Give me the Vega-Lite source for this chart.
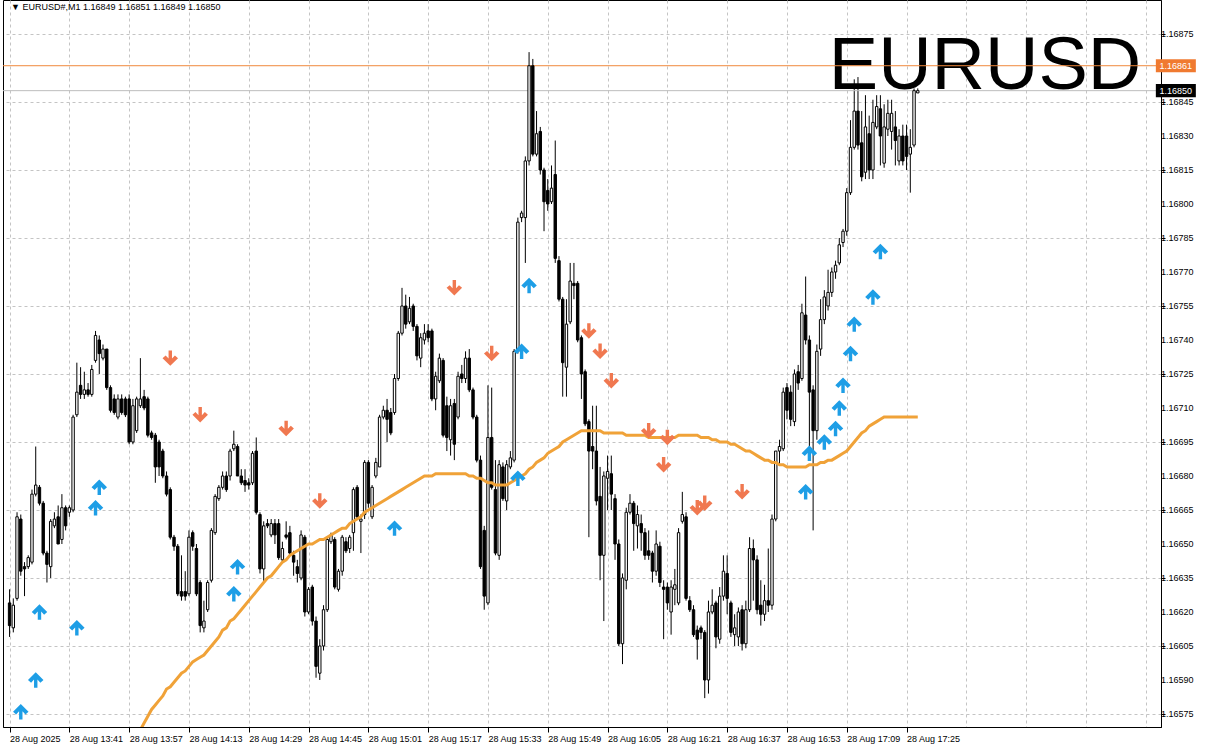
{
"$schema":"https://vega.github.io/schema/vega-lite/v6.json",
"width":1158,"height":727,
"autosize":{"type":"none"},
"padding":{"left":3,"top":0,"right":44,"bottom":23},
"background":"white",
"config":{"view":{"stroke":"#000000","strokeWidth":1},"font":"Liberation Sans","axis":{"labelOverlap":false,"labelBound":false,"labelFlush":false}},
"datasets":{
"bars":[
{"m":805,"o":1.16624,"h":1.1663,"l":1.16609,"c":1.16614},
{"m":806,"o":1.16613,"h":1.16626,"l":1.16611,"c":1.16623},
{"m":807,"o":1.16626,"h":1.16664,"l":1.16625,"c":1.16662},
{"m":808,"o":1.16661,"h":1.16663,"l":1.16636,"c":1.16638},
{"m":809,"o":1.1664,"h":1.16642,"l":1.16627,"c":1.16639},
{"m":810,"o":1.1664,"h":1.16645,"l":1.16639,"c":1.16644},
{"m":811,"o":1.16642,"h":1.16674,"l":1.16641,"c":1.16672},
{"m":812,"o":1.16672,"h":1.16693,"l":1.16671,"c":1.16676},
{"m":813,"o":1.16675,"h":1.16676,"l":1.16667,"c":1.16668},
{"m":814,"o":1.16668,"h":1.16669,"l":1.16645,"c":1.16646},
{"m":815,"o":1.16646,"h":1.16647,"l":1.16633,"c":1.16641},
{"m":816,"o":1.1664,"h":1.16661,"l":1.16635,"c":1.1666},
{"m":817,"o":1.16658,"h":1.16664,"l":1.16657,"c":1.16661},
{"m":818,"o":1.16662,"h":1.16667,"l":1.1665,"c":1.1665},
{"m":819,"o":1.16652,"h":1.16672,"l":1.1665,"c":1.16666},
{"m":820,"o":1.16666,"h":1.16667,"l":1.16656,"c":1.16658},
{"m":821,"o":1.16664,"h":1.16667,"l":1.16662,"c":1.16666},
{"m":822,"o":1.16665,"h":1.16707,"l":1.16664,"c":1.16706},
{"m":823,"o":1.16707,"h":1.1673,"l":1.16706,"c":1.16717},
{"m":824,"o":1.1672,"h":1.16728,"l":1.16714,"c":1.16716},
{"m":825,"o":1.16716,"h":1.16726,"l":1.16714,"c":1.16718},
{"m":826,"o":1.16718,"h":1.16721,"l":1.16715,"c":1.16716},
{"m":827,"o":1.16716,"h":1.16729,"l":1.16715,"c":1.16727},
{"m":828,"o":1.16731,"h":1.16744,"l":1.1673,"c":1.16742},
{"m":829,"o":1.1674,"h":1.16742,"l":1.16725,"c":1.16734},
{"m":830,"o":1.16732,"h":1.16738,"l":1.16731,"c":1.16736},
{"m":831,"o":1.16736,"h":1.16736,"l":1.16718,"c":1.16719},
{"m":832,"o":1.16719,"h":1.1672,"l":1.16708,"c":1.16709},
{"m":833,"o":1.16714,"h":1.16716,"l":1.16707,"c":1.16708},
{"m":834,"o":1.16706,"h":1.16716,"l":1.16705,"c":1.16714},
{"m":835,"o":1.16714,"h":1.16716,"l":1.16707,"c":1.16708},
{"m":836,"o":1.16714,"h":1.16715,"l":1.16706,"c":1.16707},
{"m":837,"o":1.16714,"h":1.16716,"l":1.16694,"c":1.16695},
{"m":838,"o":1.16695,"h":1.16714,"l":1.16694,"c":1.16711},
{"m":839,"o":1.167,"h":1.16715,"l":1.16699,"c":1.16714,"ma":1.16564},
{"m":840,"o":1.16711,"h":1.16732,"l":1.1671,"c":1.16714,"ma":1.16568},
{"m":841,"o":1.16715,"h":1.16718,"l":1.16709,"c":1.1671,"ma":1.16571},
{"m":842,"o":1.16714,"h":1.16715,"l":1.16697,"c":1.16698,"ma":1.16574},
{"m":843,"o":1.16699,"h":1.167,"l":1.16696,"c":1.16697,"ma":1.16577},
{"m":844,"o":1.16698,"h":1.16699,"l":1.16677,"c":1.16684,"ma":1.16579},
{"m":845,"o":1.16695,"h":1.16696,"l":1.1668,"c":1.16684,"ma":1.16581},
{"m":846,"o":1.16691,"h":1.16692,"l":1.16679,"c":1.1668,"ma":1.16583},
{"m":847,"o":1.1668,"h":1.16682,"l":1.16671,"c":1.16672,"ma":1.16586},
{"m":848,"o":1.16674,"h":1.16675,"l":1.16652,"c":1.16653,"ma":1.16587},
{"m":849,"o":1.16653,"h":1.16654,"l":1.16647,"c":1.16649,"ma":1.16589},
{"m":850,"o":1.16649,"h":1.1665,"l":1.16627,"c":1.16628,"ma":1.16591},
{"m":851,"o":1.16629,"h":1.16645,"l":1.16625,"c":1.16627,"ma":1.16593},
{"m":852,"o":1.16629,"h":1.16638,"l":1.16625,"c":1.16627,"ma":1.16594},
{"m":853,"o":1.16628,"h":1.16656,"l":1.16627,"c":1.16653,"ma":1.16596},
{"m":854,"o":1.16655,"h":1.16656,"l":1.16647,"c":1.16649,"ma":1.16598},
{"m":855,"o":1.16648,"h":1.1665,"l":1.16627,"c":1.16628,"ma":1.16599},
{"m":856,"o":1.16633,"h":1.16634,"l":1.16611,"c":1.16614,"ma":1.166},
{"m":857,"o":1.16613,"h":1.16625,"l":1.16611,"c":1.16616,"ma":1.16601},
{"m":858,"o":1.16621,"h":1.16634,"l":1.1662,"c":1.16633,"ma":1.16603},
{"m":859,"o":1.16634,"h":1.16657,"l":1.16633,"c":1.16656,"ma":1.16605},
{"m":860,"o":1.16655,"h":1.16672,"l":1.16654,"c":1.16671,"ma":1.16607},
{"m":861,"o":1.1667,"h":1.16676,"l":1.16669,"c":1.16675,"ma":1.16609},
{"m":862,"o":1.16675,"h":1.16682,"l":1.16674,"c":1.1668,"ma":1.16612},
{"m":863,"o":1.1668,"h":1.16682,"l":1.16673,"c":1.16674,"ma":1.16613},
{"m":864,"o":1.1668,"h":1.16692,"l":1.16678,"c":1.16691,"ma":1.16616},
{"m":865,"o":1.16692,"h":1.167,"l":1.16691,"c":1.16694,"ma":1.16617},
{"m":866,"o":1.16693,"h":1.16694,"l":1.1668,"c":1.1668,"ma":1.16619},
{"m":867,"o":1.1668,"h":1.16683,"l":1.16676,"c":1.16677,"ma":1.16621},
{"m":868,"o":1.16678,"h":1.16683,"l":1.16673,"c":1.16676,"ma":1.16623},
{"m":869,"o":1.16677,"h":1.16679,"l":1.16674,"c":1.16676,"ma":1.16625},
{"m":870,"o":1.16677,"h":1.16691,"l":1.16676,"c":1.1669,"ma":1.16627},
{"m":871,"o":1.16691,"h":1.16697,"l":1.16663,"c":1.16664,"ma":1.16629},
{"m":872,"o":1.16663,"h":1.16664,"l":1.16637,"c":1.16639,"ma":1.16631},
{"m":873,"o":1.16639,"h":1.1666,"l":1.16633,"c":1.16658,"ma":1.16633},
{"m":874,"o":1.16659,"h":1.16661,"l":1.16657,"c":1.16658,"ma":1.16635},
{"m":875,"o":1.16654,"h":1.16661,"l":1.16653,"c":1.16659,"ma":1.16636},
{"m":876,"o":1.16659,"h":1.16661,"l":1.1665,"c":1.16654,"ma":1.16638},
{"m":877,"o":1.16659,"h":1.16661,"l":1.16643,"c":1.16644,"ma":1.1664},
{"m":878,"o":1.16643,"h":1.16651,"l":1.16642,"c":1.16648,"ma":1.16642},
{"m":879,"o":1.16654,"h":1.1666,"l":1.16652,"c":1.16653,"ma":1.16643},
{"m":880,"o":1.16655,"h":1.16658,"l":1.16645,"c":1.16646,"ma":1.16645},
{"m":881,"o":1.16645,"h":1.16647,"l":1.16636,"c":1.16642,"ma":1.16646},
{"m":882,"o":1.1664,"h":1.16643,"l":1.16633,"c":1.16637,"ma":1.16647},
{"m":883,"o":1.16635,"h":1.16656,"l":1.16634,"c":1.16654,"ma":1.16648},
{"m":884,"o":1.16653,"h":1.16654,"l":1.16618,"c":1.1662,"ma":1.16649},
{"m":885,"o":1.1662,"h":1.16631,"l":1.16619,"c":1.1663,"ma":1.1665},
{"m":886,"o":1.16631,"h":1.16632,"l":1.16614,"c":1.16616,"ma":1.1665},
{"m":887,"o":1.16616,"h":1.16618,"l":1.16591,"c":1.16596,"ma":1.16651},
{"m":888,"o":1.16593,"h":1.16608,"l":1.1659,"c":1.16605,"ma":1.16652},
{"m":889,"o":1.16605,"h":1.16623,"l":1.16603,"c":1.16621,"ma":1.16652},
{"m":890,"o":1.16621,"h":1.16653,"l":1.1662,"c":1.16652,"ma":1.16653},
{"m":891,"o":1.16651,"h":1.16655,"l":1.1665,"c":1.16654,"ma":1.16654},
{"m":892,"o":1.16652,"h":1.16653,"l":1.1663,"c":1.16631,"ma":1.16655},
{"m":893,"o":1.1663,"h":1.16639,"l":1.16629,"c":1.16638,"ma":1.16656},
{"m":894,"o":1.16638,"h":1.16654,"l":1.16636,"c":1.16653,"ma":1.16657},
{"m":895,"o":1.16651,"h":1.16653,"l":1.16646,"c":1.16647,"ma":1.16657},
{"m":896,"o":1.16648,"h":1.16654,"l":1.16646,"c":1.16653,"ma":1.16659},
{"m":897,"o":1.16655,"h":1.16675,"l":1.16647,"c":1.16674,"ma":1.1666},
{"m":898,"o":1.16675,"h":1.16676,"l":1.16661,"c":1.16662,"ma":1.16661},
{"m":899,"o":1.1666,"h":1.16663,"l":1.16646,"c":1.16661,"ma":1.16662},
{"m":900,"o":1.16663,"h":1.16687,"l":1.16661,"c":1.16686,"ma":1.16664},
{"m":901,"o":1.16686,"h":1.16687,"l":1.16666,"c":1.16668,"ma":1.16665},
{"m":902,"o":1.16662,"h":1.16676,"l":1.16661,"c":1.16675,"ma":1.16666},
{"m":903,"o":1.1668,"h":1.16688,"l":1.16679,"c":1.16686,"ma":1.16667},
{"m":904,"o":1.16684,"h":1.16707,"l":1.16684,"c":1.16706,"ma":1.16668},
{"m":905,"o":1.16706,"h":1.16711,"l":1.16705,"c":1.16709,"ma":1.16669},
{"m":906,"o":1.16709,"h":1.16714,"l":1.16695,"c":1.16705,"ma":1.1667},
{"m":907,"o":1.16708,"h":1.1671,"l":1.16698,"c":1.16699,"ma":1.16671},
{"m":908,"o":1.16708,"h":1.16725,"l":1.16707,"c":1.16723,"ma":1.16672},
{"m":909,"o":1.16723,"h":1.16744,"l":1.16722,"c":1.16743,"ma":1.16673},
{"m":910,"o":1.16743,"h":1.16763,"l":1.16742,"c":1.16755,"ma":1.16674},
{"m":911,"o":1.16755,"h":1.1676,"l":1.16745,"c":1.16747,"ma":1.16675},
{"m":912,"o":1.16748,"h":1.16759,"l":1.16747,"c":1.16754,"ma":1.16676},
{"m":913,"o":1.16755,"h":1.16756,"l":1.16744,"c":1.16746,"ma":1.16677},
{"m":914,"o":1.16746,"h":1.16747,"l":1.16731,"c":1.16733,"ma":1.16678},
{"m":915,"o":1.16732,"h":1.16743,"l":1.16728,"c":1.16741,"ma":1.16679},
{"m":916,"o":1.1674,"h":1.16747,"l":1.16738,"c":1.16743,"ma":1.1668},
{"m":917,"o":1.16744,"h":1.16747,"l":1.16739,"c":1.16741,"ma":1.1668},
{"m":918,"o":1.16744,"h":1.16745,"l":1.16713,"c":1.16714,"ma":1.1668},
{"m":919,"o":1.16714,"h":1.16726,"l":1.16709,"c":1.16724,"ma":1.16681},
{"m":920,"o":1.16722,"h":1.16734,"l":1.16721,"c":1.16732,"ma":1.16681},
{"m":921,"o":1.16731,"h":1.16732,"l":1.16697,"c":1.16698,"ma":1.16681},
{"m":922,"o":1.16711,"h":1.16715,"l":1.16691,"c":1.16697,"ma":1.16681},
{"m":923,"o":1.16696,"h":1.16714,"l":1.16689,"c":1.16711,"ma":1.16681},
{"m":924,"o":1.16712,"h":1.16714,"l":1.16687,"c":1.16694,"ma":1.16681},
{"m":925,"o":1.16706,"h":1.16726,"l":1.16705,"c":1.16724,"ma":1.16681},
{"m":926,"o":1.16725,"h":1.16729,"l":1.16721,"c":1.16723,"ma":1.16681},
{"m":927,"o":1.16723,"h":1.16735,"l":1.16721,"c":1.16732,"ma":1.16681},
{"m":928,"o":1.16732,"h":1.16736,"l":1.16717,"c":1.16718,"ma":1.1668},
{"m":929,"o":1.16718,"h":1.16719,"l":1.16705,"c":1.16706,"ma":1.1668},
{"m":930,"o":1.16706,"h":1.16707,"l":1.16686,"c":1.16687,"ma":1.16679},
{"m":931,"o":1.16687,"h":1.16689,"l":1.16639,"c":1.1664,"ma":1.16679},
{"m":932,"o":1.16656,"h":1.16658,"l":1.16621,"c":1.16627,"ma":1.16678},
{"m":933,"o":1.16624,"h":1.1672,"l":1.16623,"c":1.16697,"ma":1.16677},
{"m":934,"o":1.16697,"h":1.16719,"l":1.16674,"c":1.16675,"ma":1.16677},
{"m":935,"o":1.16674,"h":1.16687,"l":1.16645,"c":1.16646,"ma":1.16676},
{"m":936,"o":1.16645,"h":1.16687,"l":1.16643,"c":1.16685,"ma":1.16676},
{"m":937,"o":1.16684,"h":1.16686,"l":1.16669,"c":1.1667,"ma":1.16676},
{"m":938,"o":1.16669,"h":1.16687,"l":1.16665,"c":1.16685,"ma":1.16676},
{"m":939,"o":1.16684,"h":1.16691,"l":1.16683,"c":1.16688,"ma":1.16677},
{"m":940,"o":1.16687,"h":1.16736,"l":1.16686,"c":1.16735,"ma":1.16678},
{"m":941,"o":1.16735,"h":1.16794,"l":1.16734,"c":1.16792,"ma":1.16679},
{"m":942,"o":1.16794,"h":1.16797,"l":1.16792,"c":1.16796,"ma":1.1668},
{"m":943,"o":1.16794,"h":1.16821,"l":1.16774,"c":1.16819,"ma":1.16681},
{"m":944,"o":1.16819,"h":1.16867,"l":1.16817,"c":1.16861,"ma":1.16683},
{"m":945,"o":1.16861,"h":1.16864,"l":1.16821,"c":1.16822,"ma":1.16684},
{"m":946,"o":1.16822,"h":1.16841,"l":1.16821,"c":1.16831,"ma":1.16686},
{"m":947,"o":1.16832,"h":1.16834,"l":1.16813,"c":1.16815,"ma":1.16687},
{"m":948,"o":1.16815,"h":1.16816,"l":1.16788,"c":1.16801,"ma":1.16688},
{"m":949,"o":1.16806,"h":1.16811,"l":1.16797,"c":1.168,"ma":1.1669},
{"m":950,"o":1.16801,"h":1.16817,"l":1.168,"c":1.16807,"ma":1.16691},
{"m":951,"o":1.16813,"h":1.16828,"l":1.16774,"c":1.16776,"ma":1.16692},
{"m":952,"o":1.16775,"h":1.16777,"l":1.16757,"c":1.16758,"ma":1.16693},
{"m":953,"o":1.16758,"h":1.16759,"l":1.16715,"c":1.1673,"ma":1.16695},
{"m":954,"o":1.16728,"h":1.16758,"l":1.16715,"c":1.16747,"ma":1.16696},
{"m":955,"o":1.16748,"h":1.16774,"l":1.16747,"c":1.16766,"ma":1.16697},
{"m":956,"o":1.16765,"h":1.16774,"l":1.16758,"c":1.16764,"ma":1.16698},
{"m":957,"o":1.16765,"h":1.16766,"l":1.16739,"c":1.1674,"ma":1.16699},
{"m":958,"o":1.16741,"h":1.16742,"l":1.16714,"c":1.16725,"ma":1.167},
{"m":959,"o":1.16726,"h":1.16727,"l":1.16702,"c":1.16703,"ma":1.167},
{"m":960,"o":1.16704,"h":1.16705,"l":1.16653,"c":1.16691,"ma":1.167},
{"m":961,"o":1.16693,"h":1.16711,"l":1.16683,"c":1.16691,"ma":1.167},
{"m":962,"o":1.16691,"h":1.16711,"l":1.16667,"c":1.16669,"ma":1.167},
{"m":963,"o":1.16671,"h":1.16684,"l":1.16634,"c":1.16645,"ma":1.167},
{"m":964,"o":1.16645,"h":1.16682,"l":1.16616,"c":1.1668,"ma":1.16699},
{"m":965,"o":1.16679,"h":1.16689,"l":1.16665,"c":1.16682,"ma":1.16699},
{"m":966,"o":1.16681,"h":1.16689,"l":1.16665,"c":1.16672,"ma":1.16699},
{"m":967,"o":1.1667,"h":1.16672,"l":1.16643,"c":1.1665,"ma":1.16699},
{"m":968,"o":1.1665,"h":1.16652,"l":1.16605,"c":1.16606,"ma":1.16699},
{"m":969,"o":1.16606,"h":1.16637,"l":1.16597,"c":1.16635,"ma":1.16699},
{"m":970,"o":1.16634,"h":1.16666,"l":1.1663,"c":1.16664,"ma":1.16698},
{"m":971,"o":1.16664,"h":1.16672,"l":1.16663,"c":1.16668,"ma":1.16698},
{"m":972,"o":1.16668,"h":1.16669,"l":1.16647,"c":1.16659,"ma":1.16698},
{"m":973,"o":1.16658,"h":1.16667,"l":1.16648,"c":1.16663,"ma":1.16698},
{"m":974,"o":1.16659,"h":1.16663,"l":1.16647,"c":1.16655,"ma":1.16698},
{"m":975,"o":1.16655,"h":1.16657,"l":1.16643,"c":1.16645,"ma":1.16698},
{"m":976,"o":1.16647,"h":1.16656,"l":1.16643,"c":1.16645,"ma":1.16697},
{"m":977,"o":1.16646,"h":1.16647,"l":1.16633,"c":1.16638,"ma":1.16697},
{"m":978,"o":1.16638,"h":1.16656,"l":1.16636,"c":1.1665,"ma":1.16697},
{"m":979,"o":1.16649,"h":1.16651,"l":1.16631,"c":1.16633,"ma":1.16697},
{"m":980,"o":1.16631,"h":1.16634,"l":1.16608,"c":1.1663,"ma":1.16697},
{"m":981,"o":1.16631,"h":1.16633,"l":1.16621,"c":1.16624,"ma":1.16697},
{"m":982,"o":1.1662,"h":1.16634,"l":1.1661,"c":1.16631,"ma":1.16697},
{"m":983,"o":1.1663,"h":1.16639,"l":1.16623,"c":1.16632,"ma":1.16697},
{"m":984,"o":1.16624,"h":1.16657,"l":1.16623,"c":1.16655,"ma":1.16698},
{"m":985,"o":1.1666,"h":1.16673,"l":1.16659,"c":1.16663,"ma":1.16698},
{"m":986,"o":1.16662,"h":1.16664,"l":1.16625,"c":1.16626,"ma":1.16698},
{"m":987,"o":1.16625,"h":1.16627,"l":1.1662,"c":1.16621,"ma":1.16698},
{"m":988,"o":1.16621,"h":1.16623,"l":1.16609,"c":1.1661,"ma":1.16698},
{"m":989,"o":1.16612,"h":1.16614,"l":1.16599,"c":1.16608,"ma":1.16698},
{"m":990,"o":1.16613,"h":1.16614,"l":1.16608,"c":1.16611,"ma":1.16697},
{"m":991,"o":1.16611,"h":1.16612,"l":1.16582,"c":1.1659,"ma":1.16697},
{"m":992,"o":1.1659,"h":1.16625,"l":1.16584,"c":1.1662,"ma":1.16697},
{"m":993,"o":1.1662,"h":1.1663,"l":1.16619,"c":1.16623,"ma":1.16696},
{"m":994,"o":1.16624,"h":1.16625,"l":1.16604,"c":1.16609,"ma":1.16696},
{"m":995,"o":1.16608,"h":1.16631,"l":1.16606,"c":1.16627,"ma":1.16695},
{"m":996,"o":1.16627,"h":1.16645,"l":1.16625,"c":1.16638,"ma":1.16695},
{"m":997,"o":1.16637,"h":1.16645,"l":1.16619,"c":1.16626,"ma":1.16695},
{"m":998,"o":1.16624,"h":1.16625,"l":1.16609,"c":1.16611,"ma":1.16694},
{"m":999,"o":1.1661,"h":1.16619,"l":1.16605,"c":1.16613,"ma":1.16694},
{"m":1000,"o":1.16609,"h":1.16622,"l":1.16605,"c":1.1662,"ma":1.16693},
{"m":1001,"o":1.16621,"h":1.16623,"l":1.16603,"c":1.16606,"ma":1.16692},
{"m":1002,"o":1.16606,"h":1.16625,"l":1.16604,"c":1.16621,"ma":1.16691},
{"m":1003,"o":1.16621,"h":1.16653,"l":1.1662,"c":1.16648,"ma":1.16691},
{"m":1004,"o":1.16648,"h":1.16652,"l":1.16625,"c":1.16643,"ma":1.1669},
{"m":1005,"o":1.16643,"h":1.16645,"l":1.16619,"c":1.16621,"ma":1.16689},
{"m":1006,"o":1.16623,"h":1.16634,"l":1.16614,"c":1.16619,"ma":1.16688},
{"m":1007,"o":1.16619,"h":1.16632,"l":1.16616,"c":1.16625,"ma":1.16687},
{"m":1008,"o":1.16625,"h":1.16648,"l":1.1662,"c":1.16623,"ma":1.16687},
{"m":1009,"o":1.16623,"h":1.16663,"l":1.16621,"c":1.16661,"ma":1.16686},
{"m":1010,"o":1.16661,"h":1.16691,"l":1.1666,"c":1.16691,"ma":1.16686},
{"m":1011,"o":1.16691,"h":1.16696,"l":1.16685,"c":1.16693,"ma":1.16685},
{"m":1012,"o":1.16692,"h":1.16719,"l":1.16691,"c":1.16717,"ma":1.16685},
{"m":1013,"o":1.16719,"h":1.16721,"l":1.16705,"c":1.16709,"ma":1.16684},
{"m":1014,"o":1.16717,"h":1.1672,"l":1.16702,"c":1.16705,"ma":1.16684},
{"m":1015,"o":1.16704,"h":1.16727,"l":1.16702,"c":1.16725,"ma":1.16684},
{"m":1016,"o":1.16726,"h":1.16729,"l":1.16718,"c":1.16721,"ma":1.16684},
{"m":1017,"o":1.16723,"h":1.16756,"l":1.16722,"c":1.16752,"ma":1.16684},
{"m":1018,"o":1.16751,"h":1.16768,"l":1.16738,"c":1.1674,"ma":1.16684},
{"m":1019,"o":1.1674,"h":1.16742,"l":1.16687,"c":1.16717,"ma":1.16685},
{"m":1020,"o":1.16718,"h":1.1672,"l":1.16656,"c":1.167,"ma":1.16685},
{"m":1021,"o":1.167,"h":1.16738,"l":1.16696,"c":1.16735,"ma":1.16685},
{"m":1022,"o":1.16736,"h":1.16758,"l":1.16733,"c":1.16749,"ma":1.16686},
{"m":1023,"o":1.16749,"h":1.16762,"l":1.16747,"c":1.16759,"ma":1.16686},
{"m":1024,"o":1.16755,"h":1.16771,"l":1.16753,"c":1.16761,"ma":1.16687},
{"m":1025,"o":1.16761,"h":1.16772,"l":1.16759,"c":1.1677,"ma":1.16687},
{"m":1026,"o":1.1677,"h":1.16775,"l":1.16767,"c":1.16773,"ma":1.16688},
{"m":1027,"o":1.16774,"h":1.16785,"l":1.16773,"c":1.16782,"ma":1.16689},
{"m":1028,"o":1.16783,"h":1.16789,"l":1.16781,"c":1.16788,"ma":1.1669},
{"m":1029,"o":1.16788,"h":1.16807,"l":1.16786,"c":1.16805,"ma":1.16691},
{"m":1030,"o":1.16805,"h":1.16837,"l":1.16804,"c":1.16825,"ma":1.16693},
{"m":1031,"o":1.16825,"h":1.16855,"l":1.16824,"c":1.16841,"ma":1.16695},
{"m":1032,"o":1.16841,"h":1.16856,"l":1.16824,"c":1.16826,"ma":1.16697},
{"m":1033,"o":1.16827,"h":1.16841,"l":1.1681,"c":1.16812,"ma":1.16699},
{"m":1034,"o":1.16814,"h":1.16848,"l":1.16811,"c":1.16834,"ma":1.167},
{"m":1035,"o":1.16831,"h":1.16839,"l":1.16811,"c":1.16815,"ma":1.16702},
{"m":1036,"o":1.16815,"h":1.16846,"l":1.16811,"c":1.16836,"ma":1.16703},
{"m":1037,"o":1.16834,"h":1.16848,"l":1.16833,"c":1.16843,"ma":1.16704},
{"m":1038,"o":1.16842,"h":1.16848,"l":1.16817,"c":1.1683,"ma":1.16705},
{"m":1039,"o":1.16818,"h":1.16844,"l":1.16816,"c":1.16834,"ma":1.16706},
{"m":1040,"o":1.16833,"h":1.16846,"l":1.1683,"c":1.1684,"ma":1.16706},
{"m":1041,"o":1.16832,"h":1.16846,"l":1.16824,"c":1.1684,"ma":1.16706},
{"m":1042,"o":1.16834,"h":1.16841,"l":1.16817,"c":1.16828,"ma":1.16706},
{"m":1043,"o":1.16819,"h":1.16833,"l":1.16817,"c":1.1683,"ma":1.16706},
{"m":1044,"o":1.1683,"h":1.16835,"l":1.16817,"c":1.16819,"ma":1.16706},
{"m":1045,"o":1.1683,"h":1.16835,"l":1.16815,"c":1.16821,"ma":1.16706},
{"m":1046,"o":1.16822,"h":1.16833,"l":1.16805,"c":1.16825,"ma":1.16706},
{"m":1047,"o":1.16826,"h":1.16851,"l":1.16825,"c":1.1685,"ma":1.16706},
{"m":1048,"o":1.16849,"h":1.16851,"l":1.16849,"c":1.1685,"ma":1.16706}
],
"arrows":[
{"m":808,"price":1.16576,"dir":"up"},{"m":812,"price":1.1659,"dir":"up"},{"m":813,"price":1.1662,"dir":"up"},
{"m":823,"price":1.16613,"dir":"up"},{"m":828,"price":1.16666,"dir":"up"},{"m":829,"price":1.16675,"dir":"up"},
{"m":865,"price":1.16628,"dir":"up"},{"m":866,"price":1.1664,"dir":"up"},{"m":908,"price":1.16657,"dir":"up"},
{"m":941,"price":1.16679,"dir":"up"},{"m":942,"price":1.16735,"dir":"up"},{"m":944,"price":1.16764,"dir":"up"},
{"m":1018,"price":1.16673,"dir":"up"},{"m":1019,"price":1.1669,"dir":"up"},{"m":1023,"price":1.16695,"dir":"up"},
{"m":1026,"price":1.16701,"dir":"up"},{"m":1027,"price":1.1671,"dir":"up"},{"m":1028,"price":1.1672,"dir":"up"},
{"m":1030,"price":1.16734,"dir":"up"},{"m":1031,"price":1.16747,"dir":"up"},{"m":1036,"price":1.16759,"dir":"up"},
{"m":1038,"price":1.16779,"dir":"up"},
{"m":848,"price":1.16732,"dir":"down"},{"m":856,"price":1.16707,"dir":"down"},{"m":879,"price":1.16701,"dir":"down"},
{"m":888,"price":1.16669,"dir":"down"},{"m":924,"price":1.16763,"dir":"down"},{"m":934,"price":1.16734,"dir":"down"},
{"m":960,"price":1.16744,"dir":"down"},{"m":963,"price":1.16735,"dir":"down"},{"m":966,"price":1.16722,"dir":"down"},
{"m":976,"price":1.167,"dir":"down"},{"m":981,"price":1.16697,"dir":"down"},{"m":980,"price":1.16685,"dir":"down"},
{"m":989,"price":1.16666,"dir":"down"},{"m":991,"price":1.16668,"dir":"down"},{"m":1001,"price":1.16673,"dir":"down"}
],
"levels":[{"price":1.16861,"line":"alert"},{"price":1.1685,"line":"bid"}],
"pricelabels":[{"price":1.16575},{"price":1.1659},{"price":1.16605},{"price":1.1662},{"price":1.16635},{"price":1.1665},{"price":1.16665},{"price":1.1668},{"price":1.16695},{"price":1.1671},{"price":1.16725},{"price":1.1674},{"price":1.16755},{"price":1.1677},{"price":1.16785},{"price":1.168},{"price":1.16815},{"price":1.1683},{"price":1.16845},{"price":1.16875}]
},
"layer":[
{"data":{"name":"bars"},
 "mark":{"type":"rule","color":"#000000","strokeWidth":1},
 "encoding":{
  "x":{"field":"m","type":"quantitative","scale":{"domain":[804.58,1111.74],"nice":false,"zero":false},
   "axis":{"orient":"bottom","values":[805,813,821,829,837,845,853,861,869,877,885,893,901,909,917,925,933,941,949,957,965,973,981,989,997,1005,1013,1021,1029,1037,1045,1053,1061,1069,1077,1085,1093,1101,1109],
    "title":null,"grid":true,"gridColor":"#c4c4c4","gridDash":[3,3],"gridWidth":1,
    "domain":true,"domainColor":"#000000","ticks":true,"tickSize":5,"tickColor":"#000000",
    "tickOpacity":{"condition":{"test":"(datum.value-805)%16==0 && datum.value<=1045","value":1},"value":0},
    "labelExpr":"((datum.value-805)%16!=0 || datum.value>1045) ? '' : (datum.value==805 ? '28 Aug 2025' : '28 Aug ' + floor(datum.value/60) + ':' + (datum.value%60<10 ? '0' : '') + (datum.value%60))",
    "labelAlign":"left","labelFont":"Liberation Sans","labelFontSize":9,"labelColor":"#000000","labelPadding":2,
    "labelOverlap":false,"labelFlush":false,"labelBound":false}},
  "y":{"field":"l","type":"quantitative","scale":{"domain":[1.1656926,1.1689],"nice":false,"zero":false},
   "axis":{"orient":"right","values":[1.16575,1.1659,1.16605,1.1662,1.16635,1.1665,1.16665,1.1668,1.16695,1.1671,1.16725,1.1674,1.16755,1.1677,1.16785,1.168,1.16815,1.1683,1.16845,1.1686,1.16875],
    "title":null,"grid":true,"gridColor":"#c4c4c4","gridDash":[3,3],"gridWidth":1,
    "domain":true,"domainColor":"#000000","tickSize":4,"tickColor":"#000000","labels":false}},
  "y2":{"field":"h"}}},
{"data":{"values":[{"text":"EURUSD"}]},
 "mark":{"type":"text","font":"Liberation Sans","fontSize":74,"align":"left","baseline":"alphabetic","color":"#000000"},
 "encoding":{"x":{"datum":1024.2,"type":"quantitative","title":null,"axis":{"orient":"bottom"}},"y":{"datum":1.168507,"type":"quantitative","title":null,"axis":{"orient":"right"}},"text":{"field":"text","type":"nominal"}}},
{"data":{"name":"levels"},
 "mark":{"type":"rule","strokeWidth":1},
 "encoding":{"y":{"field":"price","type":"quantitative","title":null,"axis":{"orient":"right"}},
  "color":{"condition":{"test":"datum.line=='alert'","value":"#F0883C"},"value":"#BDBDBD"}}},
{"data":{"name":"bars"},
 "mark":{"type":"bar","size":2.4,"stroke":"#000000","strokeWidth":1},
 "encoding":{"x":{"field":"m","type":"quantitative","title":null,"axis":{"orient":"bottom"}},"y":{"field":"o","type":"quantitative","title":null,"axis":{"orient":"right"}},"y2":{"field":"c"},
  "fill":{"condition":{"test":"datum.c>=datum.o","value":"#ffffff"},"value":"#000000"}}},
{"data":{"name":"bars"},
 "mark":{"type":"line","color":"#F0A238","strokeWidth":3,"clip":true},
 "encoding":{"x":{"field":"m","type":"quantitative","title":null,"axis":{"orient":"bottom"}},"y":{"field":"ma","type":"quantitative","title":null,"axis":{"orient":"right"}}}},
{"data":{"name":"arrows"},
 "mark":{"type":"point","filled":true,"opacity":1,"size":240,"strokeWidth":0},
 "encoding":{"x":{"field":"m","type":"quantitative","title":null,"axis":{"orient":"bottom"}},"y":{"field":"price","type":"quantitative","title":null,"axis":{"orient":"right"}},
  "shape":{"field":"dir","type":"nominal","legend":null,"scale":{"domain":["up","down"],"range":["M0,-1L1,0L0.6,0.35L0.22,-0.05L0.22,1L-0.22,1L-0.22,-0.05L-0.6,0.35L-1,0Z","M0,1L1,0L0.6,-0.35L0.22,0.05L0.22,-1L-0.22,-1L-0.22,0.05L-0.6,-0.35L-1,0Z"]}},
  "color":{"field":"dir","type":"nominal","legend":null,"scale":{"domain":["up","down"],"range":["#1E9EE6","#F07850"]}}}},
{"data":{"values":[{"text":"▼ EURUSD#,M1  1.16849 1.16851 1.16849 1.16850"}]},
 "mark":{"type":"text","font":"Liberation Sans","fontSize":9,"align":"left","baseline":"alphabetic","color":"#000000"},
 "encoding":{"x":{"datum":805.4,"type":"quantitative","title":null,"axis":{"orient":"bottom"}},"y":{"datum":1.168858,"type":"quantitative","title":null,"axis":{"orient":"right"}},"text":{"field":"text","type":"nominal"}}},
{"data":{"name":"pricelabels"},
 "mark":{"type":"text","font":"Liberation Sans","fontSize":9,"align":"left","baseline":"middle","color":"#000000"},
 "encoding":{"x":{"datum":1113.07,"type":"quantitative","title":null,"axis":{"orient":"bottom"}},"y":{"field":"price","type":"quantitative","title":null,"axis":{"orient":"right"}},
  "text":{"field":"price","type":"quantitative","format":".5f"}}},
{"data":{"name":"levels"},
 "mark":{"type":"point","filled":true,"opacity":1,"size":1600,"strokeWidth":0,"shape":"M-1,-0.33L1,-0.33L1,0.33L-1,0.33Z"},
 "encoding":{"x":{"datum":1117.05,"type":"quantitative","title":null,"axis":{"orient":"bottom"}},"y":{"field":"price","type":"quantitative","title":null,"axis":{"orient":"right"}},
  "fill":{"condition":{"test":"datum.line=='alert'","value":"#F07A30"},"value":"#000000"}}},
{"data":{"name":"levels"},
 "mark":{"type":"text","font":"Liberation Sans","fontSize":9,"align":"center","baseline":"middle","color":"#ffffff"},
 "encoding":{"x":{"datum":1117.05,"type":"quantitative","title":null,"axis":{"orient":"bottom"}},"y":{"field":"price","type":"quantitative","title":null,"axis":{"orient":"right"}},
  "text":{"field":"price","type":"quantitative","format":".5f"}}}
]
}
